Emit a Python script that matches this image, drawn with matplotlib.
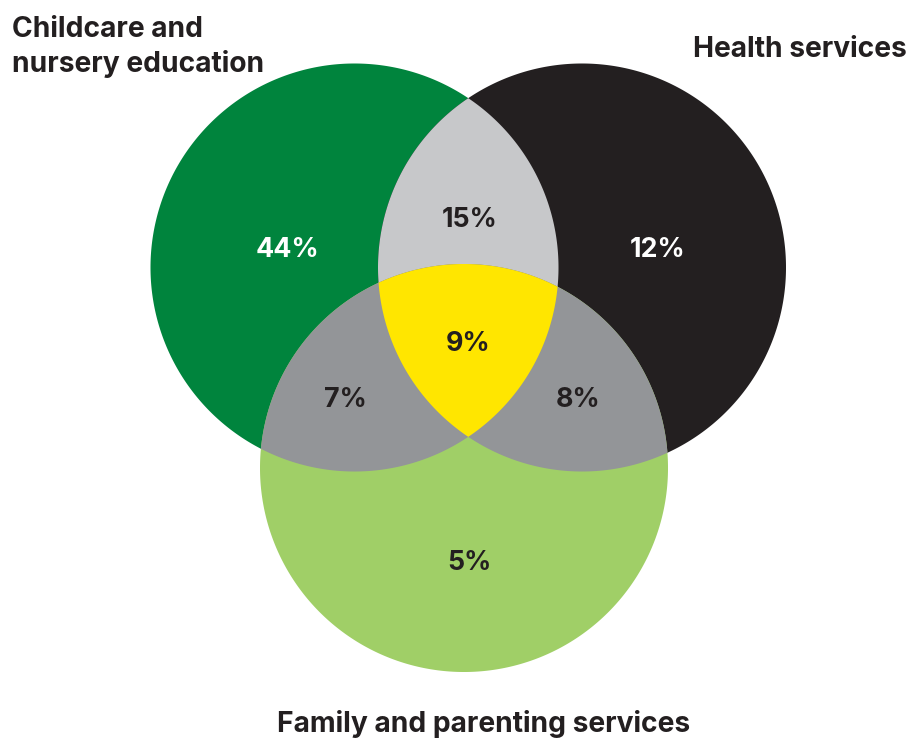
import numpy as np
import matplotlib
matplotlib.use("Agg")
import matplotlib.pyplot as plt
from matplotlib.patches import Polygon

# Set names and the share of services in each region of the diagram
set_names = ["Childcare and\nnursery education", "Health services", "Family and parenting services"]
region_keys = ["A", "B", "C", "AB", "AC", "BC", "ABC"]
region_values = [44, 12, 5, 15, 7, 8, 9]

# Layout (pixel-like coordinates, y pointing down)
W, H = 910, 738
R = 204
centers = {"A": (354.5, 267.5), "B": (582.0, 267.5), "C": (464.0, 468.0)}
region_colors = {
    "A": "#00843D", "B": "#231F20", "C": "#A0CF67",
    "AB": "#C7C8CA", "AC": "#939598", "BC": "#939598", "ABC": "#FFE600",
}
# label anchor: (center x, baseline y)
label_pos = {
    "A": (287.5, 257), "B": (658, 257), "C": (469, 570),
    "AB": (470, 227), "AC": (345, 407), "BC": (578, 407), "ABC": (468, 351),
}
label_colors = {"A": "white", "B": "white"}

N = 4000
theta = np.linspace(0, 2 * np.pi, N, endpoint=False)


def circle_pts(key):
    cx, cy = centers[key]
    return np.column_stack([cx + R * np.cos(theta), cy + R * np.sin(theta)])


def inside(pts, key):
    cx, cy = centers[key]
    return (pts[:, 0] - cx) ** 2 + (pts[:, 1] - cy) ** 2 <= R ** 2 + 1e-6


def intersection(keys):
    """Boundary polygon of the intersection of the given circles."""
    parts = []
    for k in keys:
        p = circle_pts(k)
        m = np.ones(len(p), bool)
        for o in keys:
            if o != k:
                m &= inside(p, o)
        parts.append(p[m])
    pts = np.vstack(parts)
    c = pts.mean(axis=0)
    order = np.argsort(np.arctan2(pts[:, 1] - c[1], pts[:, 0] - c[0]))
    return pts[order]


fig = plt.figure(figsize=(W / 100, H / 100), dpi=100)
ax = fig.add_axes([0, 0, 1, 1])
ax.set_xlim(0, W)
ax.set_ylim(H, 0)
ax.set_aspect("equal")
ax.axis("off")

for k in ["A", "B", "C"]:
    ax.add_patch(Polygon(circle_pts(k), closed=True, facecolor=region_colors[k],
                         edgecolor="none", zorder=1))
for k in ["AB", "AC", "BC", "ABC"]:
    ax.add_patch(Polygon(intersection(list(k)), closed=True,
                         facecolor=region_colors[k], edgecolor="none",
                         zorder=2 if len(k) == 2 else 3))

font = ["Inter", "Liberation Sans", "DejaVu Sans"]
for k, v in zip(region_keys, region_values):
    x, y = label_pos[k]
    ax.text(x, y, f"{v}%", ha="center", va="baseline", fontsize=19.3,
            fontweight="bold", family=font, color=label_colors.get(k, "#231F20"),
            zorder=5)

heading = dict(fontsize=20.3, fontweight="bold", family=font, color="#231F20",
               va="baseline")
for i, line in enumerate(set_names[0].split("\n")):
    ax.text(12, 37 + 35 * i, line, ha="left", **heading)
ax.text(907, 57, set_names[1], ha="right", **heading)
ax.text(484, 732, set_names[2], ha="center", **heading)

fig.savefig("out.png", dpi=100)
